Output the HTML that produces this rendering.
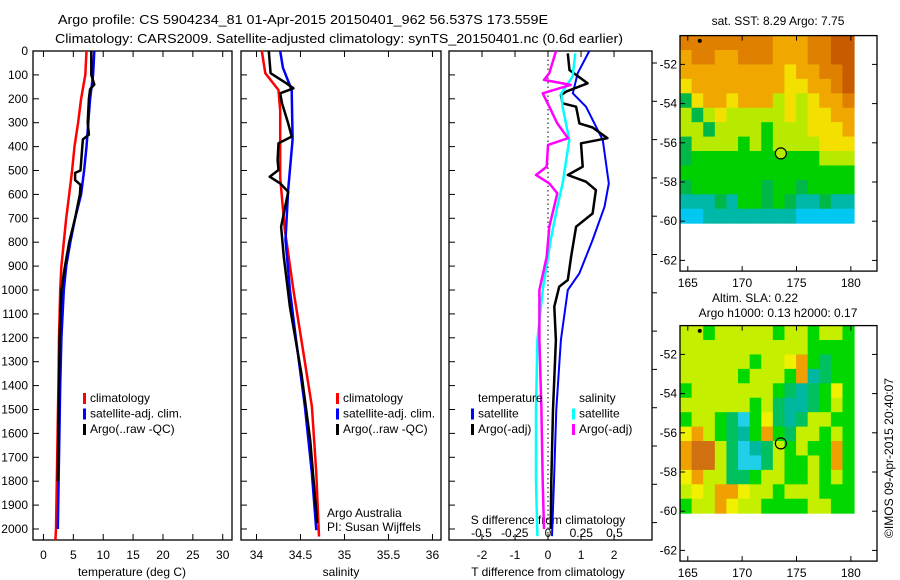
<!DOCTYPE html>
<html><head><meta charset="utf-8"><style>
html,body{margin:0;padding:0;background:#fff;}
svg{display:block;font-family:"Liberation Sans",sans-serif;}
text{font-size:12px;fill:#000;}
</style></head><body>
<svg id="s" width="900" height="580" viewBox="0 0 900 580" xmlns="http://www.w3.org/2000/svg">
<text x="58" y="24" textLength="490" lengthAdjust="spacingAndGlyphs" style="font-size:13px">Argo profile: CS 5904234_81 01-Apr-2015 20150401_962 56.537S 173.559E</text>
<text x="55" y="43" textLength="568" lengthAdjust="spacingAndGlyphs" style="font-size:13px">Climatology: CARS2009. Satellite-adjusted climatology: synTS_20150401.nc (0.6d earlier)</text>
<g id="g"></g>
<text transform="translate(893,458) rotate(-90)" text-anchor="middle" textLength="160" lengthAdjust="spacingAndGlyphs" style="font-size:12px">©IMOS 09-Apr-2015 20:40:07</text>
</svg>
<script>
// ---------- data ----------
const depthTicks = [0,100,200,300,400,500,600,700,800,900,1000,1100,1200,1300,1400,1500,1600,1700,1800,1900,2000];
// temperature panel
const tClimDepth = [0,100,200,300,400,500,600,700,800,900,1000,1200,1400,1700,2000,2046];
const tClimVal   = [7.2,7.0,6.3,5.8,5.2,4.8,4.3,3.8,3.4,3.0,2.8,2.6,2.5,2.3,2.1,2.0];
const tSatDepth  = [0,100,200,300,400,500,600,700,800,900,1000,1200,1400,1700,2000];
const tSatVal    = [8.5,8.3,7.8,7.5,7.2,6.8,6.3,5.3,4.5,3.8,3.4,3.0,2.8,2.6,2.4];
const tArgoDepth = [0,100,140,160,200,300,350,370,400,500,510,540,560,600,700,800,900,1000,1200,1400,1600,1800];
const tArgoVal   = [8.0,8.0,8.5,7.8,7.6,7.4,7.6,6.6,6.5,6.2,5.3,5.3,6.2,6.1,5.3,4.3,3.6,3.0,2.7,2.6,2.5,2.4];
const tempTicks  = [0,5,10,15,20,25,30];
// salinity panel
const sClimDepth = [0,93,163,250,530,740,1000,1209,1488,1767,2032];
const sClimVal   = [34.06,34.10,34.25,34.27,34.27,34.32,34.42,34.51,34.63,34.68,34.71];
const sSatDepth  = [0,70,163,370,580,790,1000,1209,1488,1767,2005];
const sSatVal    = [34.27,34.30,34.40,34.41,34.36,34.33,34.38,34.45,34.55,34.63,34.68];
const sArgoDepth = [0,93,135,156,177,219,303,358,386,456,498,526,554,589,735,861,1070,1349,1628,1975];
const sArgoVal   = [34.14,34.16,34.34,34.42,34.27,34.29,34.36,34.40,34.25,34.24,34.25,34.15,34.27,34.36,34.28,34.31,34.38,34.51,34.61,34.69];
const salTicks   = [34,34.5,35,35.5,36];
// difference panel
const dTSatDepth  = [0,93,177,233,373,554,652,791,930,1000,1209,1500,1800,2030];
const dTSatVal    = [1.25,0.9,0.75,1.15,1.66,1.84,1.71,1.35,0.95,0.6,0.39,0.25,0.18,0.12];
const dTArgoDepth = [10,80,100,135,170,185,219,233,303,320,365,386,484,519,547,582,680,735,861,958,986,1070,1209,1500,1800,2000];
const dTArgoVal   = [0.6,0.65,0.85,1.2,0.55,0.39,0.44,0.85,0.95,1.35,1.8,1.0,1.05,0.6,1.15,1.45,1.35,0.85,0.7,0.6,0.34,0.19,0.24,0.15,0.1,0.08];
const dSSatDepth  = [10,107,177,233,373,554,652,791,1000,1209,1500,1800,2030];
const dSSatVal    = [0.205,0.185,0.10,0.11,0.16,0.11,0.07,0.02,-0.04,-0.08,-0.09,-0.09,-0.08];
const dSArgoDepth = [0,93,121,142,177,233,303,365,393,484,519,554,596,735,861,1000,1209,1500,1800,2000];
const dSArgoVal   = [0.06,0.01,-0.03,0.17,-0.04,0.01,0.07,0.15,0.0,-0.01,-0.09,0.01,0.07,0.01,-0.01,-0.065,-0.065,-0.05,-0.04,-0.03];
const dTTicks = [-2,-1,0,1,2];
const dSTicks = [-0.5,-0.25,0,0.25,0.5];
const dSTickLabels = ["-0.5","-0.25","0","0.25","0.5"];
// maps
const lonTicks = [165,170,175,180];
const latTicks = [-52,-54,-56,-58,-60,-62];
const argoLon = 173.56, argoLat = -56.54;
const sstRows = ["OOOOOOOOAAAOOBB","AOOAAOOOAAAOOBB","AAAAAAAAAYAAOOB","YAAAAAAAAYYAAOB","gYAAYAAALYLYAAO","LgLYLLLLLYLYYAA","LLgLLLLGLLLYYYA","gLLLLGLGLLLLYYY","gGGGGGGGGGGGLLL","GGGGGGGGGGGGGGG","gGGGGGGgGGgGGGG","TTTgTGGgGgTTgTT","CCTTTTTTTTCCCCC"];
const slaRows = ["LLGLLLLLGLLGLLG","LLLLLLLLLLLGGGG","LLLLLLGLLYAGgGG","LLLLLGLLLGATgGG","GLLLLLLLGgTgGYG","LLLLLLGLgTTgGLG","GLLGgCGYgTgLLGG","YALGgTGAGgLLGLG","ARRLgCTgLGLGGAG","ARRLgCCgLGGLGAG","YALLggGLLGGLGLG","LYLAAYLLGLLLGGG","GLLAYLLGGGGLLGG"];

// ---------- drawing ----------
const NS="http://www.w3.org/2000/svg";
const G=document.getElementById('g');
function mk(tag,attrs,parent){const e=document.createElementNS(NS,tag);for(const k in attrs)e.setAttribute(k,attrs[k]);(parent||G).appendChild(e);return e;}
function txt(x,y,s,anchor,parent){const e=mk('text',{x:x,y:y,'text-anchor':anchor||'start'},parent);e.textContent=s;return e;}
const yTop=51, pxPerM=0.239;
const yD=d=>yTop+d*pxPerM;
const yBot=yD(2046);

function panel(name,x0,x1,v0,v1){
  const g=mk('g',{});
  
  
  const r=mk('rect',{x:x0,y:yTop,width:x1-x0,height:yBot-yTop,fill:'#fff',stroke:'#000','stroke-width':1.3},g);
  
  
  depthTicks.forEach(d=>{mk('line',{x1:x0,x2:x0+6,y1:yD(d),y2:yD(d),stroke:'#000'},g);});
  return {g:g,xs:v=>x0+(v-v0)/(v1-v0)*(x1-x0)};
}
function line(p,name,depths,vals,color,w,xs){
  const f=xs||p.xs;
  const pts=depths.map((d,i)=>f(vals[i]).toFixed(1)+','+yD(d).toFixed(1)).join(' ');
  const e=mk('polyline',{points:pts,fill:'none',stroke:color,'stroke-width':w,'stroke-linejoin':'round'},p.g);
  
  
}
function legend(p,x,y,items,name){
  const lg=mk('g',{},p.g);
  
  
  items.forEach((it,i)=>{
    if(it[1]) mk('rect',{x:x,y:y+i*15.5-9,width:3,height:11,fill:it[1]},lg);
    txt(x+7,y+i*15.5,it[0],'start',lg);
  });
}

// Panel 1: temperature
const P1=panel('temperature-panel',33,232,-1.75,31.55);
depthTicks.forEach(d=>{const t=txt(28,yD(d)+4,String(d),'end',P1.g);});
tempTicks.forEach(v=>{const x=P1.xs(v);mk('line',{x1:x,x2:x,y1:yBot,y2:yBot-6,stroke:'#000'},P1.g);mk('line',{x1:x,x2:x,y1:yTop,y2:yTop+6,stroke:'#000'},P1.g);txt(x,559,String(v),'middle',P1.g);});
txt(132,576,'temperature (deg C)','middle',P1.g);
line(P1,'temp-climatology-line',tClimDepth,tClimVal,'#ff0000',2.5);
line(P1,'temp-satellite-line',tSatDepth,tSatVal,'#0000ff',2.5);
line(P1,'temp-argo-line',tArgoDepth,tArgoVal,'#000',2.5);
legend(P1,83,402,[['climatology','#ff0000'],['satellite-adj. clim.','#0000ff'],['Argo(..raw -QC)','#000']],'temp-legend');

// Panel 2: salinity
const P2=panel('salinity-panel',241,441,33.824,36.097);
salTicks.forEach(v=>{const x=P2.xs(v);mk('line',{x1:x,x2:x,y1:yBot,y2:yBot-6,stroke:'#000'},P2.g);mk('line',{x1:x,x2:x,y1:yTop,y2:yTop+6,stroke:'#000'},P2.g);txt(x,559,String(v),'middle',P2.g);});
txt(341,576,'salinity','middle',P2.g);
line(P2,'sal-climatology-line',sClimDepth,sClimVal,'#ff0000',2.5);
line(P2,'sal-satellite-line',sSatDepth,sSatVal,'#0000ff',2.5);
line(P2,'sal-argo-line',sArgoDepth,sArgoVal,'#000',2.5);
legend(P2,336,402,[['climatology','#ff0000'],['satellite-adj. clim.','#0000ff'],['Argo(..raw -QC)','#000']],'sal-legend');
txt(327,517,'Argo Australia','start',P2.g);
txt(327,531,'PI: Susan Wijffels','start',P2.g);

// Panel 3: differences
const P3=panel('difference-panel',449,652,-3.0,3.15);
const xsS=v=>548+v*133;
dTTicks.forEach(v=>{const x=P3.xs(v);mk('line',{x1:x,x2:x,y1:yBot,y2:yBot-6,stroke:'#000'},P3.g);mk('line',{x1:x,x2:x,y1:yTop,y2:yTop+6,stroke:'#000'},P3.g);txt(x,559,String(v),'middle',P3.g);});
dSTicks.forEach((v,i)=>{txt(xsS(v),537,dSTickLabels[i],'middle',P3.g);});
mk('line',{x1:548,x2:548,y1:yTop+4,y2:yBot,stroke:'#000','stroke-dasharray':'1.5,3'},P3.g);
for(let y=63;y<540;y+=38.3) mk('line',{x1:652,x2:657,y1:y,y2:y,stroke:'#000'},P3.g);
txt(548,524,'S difference from climatology','middle',P3.g);
txt(548,576,'T difference from climatology','middle',P3.g);
line(P3,'dT-satellite-line',dTSatDepth,dTSatVal,'#0000ff',2);
line(P3,'dT-argo-line',dTArgoDepth,dTArgoVal,'#000',2.5);
line(P3,'dS-satellite-line',dSSatDepth,dSSatVal,'#00ffff',2.5,xsS);
line(P3,'dS-argo-line',dSArgoDepth,dSArgoVal,'#ff00ff',2.5,xsS);
legend(P3,471,402,[['temperature',null],['satellite','#0000ff'],['Argo(-adj)','#000']],'temperature-legend');
legend(P3,572,402,[['salinity',null],['satellite','#00ffff'],['Argo(-adj)','#ff00ff']],'salinity-legend');

// Maps
const sstPal={B:'#c85a00',O:'#e08000',A:'#f0a800',Y:'#f4e000',L:'#b8ea00',G:'#00d000',g:'#00b848',T:'#00b8a8',C:'#00c8f0'};
const slaPal={L:'#c4f000',Y:'#f0f000',G:'#00d800',g:'#00c060',T:'#00b8a0',C:'#20d0e8',A:'#f0a000',R:'#d07010'};
function map(name,top,rows,pal,fillCircle,titles){
  const g=mk('g',{});
  
  
  const lx=lon=>687.8+(lon-165)*10.87;
  const ly=lat=>top+28.8+(-52-lat)*19.6;
  const fx0=680,fx1=877,fy1=top+235.5;
  mk('rect',{x:fx0,y:top,width:fx1-fx0,height:fy1-top,fill:'#fff'},g);
  const x0=fx0,x1=lx(180.3),y0=top,y1=ly(-60.1);
  const nr=rows.length,nc=rows[0].length,cw=(x1-x0)/nc,ch=(y1-y0)/nr;
  rows.forEach((row,r)=>{[...row].forEach((c,k)=>{mk('rect',{x:(x0+k*cw).toFixed(2),y:(y0+r*ch).toFixed(2),width:(cw+0.5).toFixed(2),height:(ch+0.5).toFixed(2),fill:pal[c]},g);});});
  mk('rect',{x:fx0,y:top,width:fx1-fx0,height:fy1-top,fill:'none',stroke:'#000','stroke-width':1.3},g);
  lonTicks.forEach(v=>{const x=lx(v);mk('line',{x1:x,x2:x,y1:fy1,y2:fy1-5,stroke:'#000'},g);mk('line',{x1:x,x2:x,y1:top,y2:top+5,stroke:'#000'},g);txt(x,fy1+16,String(v),'middle',g);});
  latTicks.forEach(v=>{const y=ly(v);mk('line',{x1:fx0,x2:fx0+5,y1:y,y2:y,stroke:'#000'},g);mk('line',{x1:fx1,x2:fx1-5,y1:y,y2:y,stroke:'#000'},g);txt(fx0-3,y+4,String(v),'end',g);});
  mk('circle',{cx:lx(166.1),cy:ly(-50.8),r:2,fill:'#000'},g);
  const c=mk('circle',{cx:lx(argoLon),cy:ly(argoLat),r:5.5,fill:fillCircle,stroke:'#000','stroke-width':1.2},g);
  
  
  titles.forEach(t=>txt(t[0],t[1],t[2],'middle',g));
}
map('sst-map',35.6,sstRows,sstPal,'#b8ea00',[[778,25,'sat. SST: 8.29 Argo: 7.75']]);
map('sla-map',325.6,slaRows,slaPal,'none',[[755,302,'Altim. SLA: 0.22'],[778,317,'Argo h1000: 0.13 h2000: 0.17']]);
</script>
</body></html>
